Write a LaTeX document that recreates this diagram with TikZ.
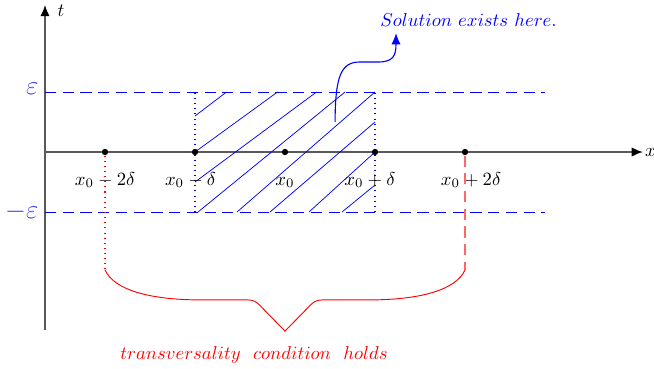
\documentclass[tikz,border=0pt]{standalone}
\usepackage{tikz}
\usetikzlibrary{arrows.meta,positioning}

\begin{document}
\begin{tikzpicture}[
  x=0.565cm,y=0.565cm,
  ax/.style={draw=black!65,line width=0.8pt,
    -{Latex[length=6pt,width=5pt,color=black]}},
  dot/.style={circle,fill=black,inner sep=0pt,minimum size=3.4pt},
  lbl/.style={anchor=base},
  band/.style={blue,line width=0.5pt,dash pattern=on 6pt off 3.5pt},
  side/.style={blue,line width=0.55pt,dash pattern=on 0.55pt off 2.2pt},
  hatch/.style={blue,line width=0.4pt},
  ends/.style={red,line width=0.5pt},
  a/.style={blue,semithick,-{Latex[length=6pt,width=5pt]}}
]
\useasboundingbox (-1.5,-7.233) rectangle (20.3,5.067);

% axes
\coordinate (ybot) at (0,-5.93);
\coordinate (ytop) at (0,4.9);
\coordinate (o) at (0,0);
\coordinate (xend) at (19.93,0);
\draw[ax] (ybot) -- (ytop);
\draw[ax] (o) -- (xend);
\node[right] (tlbl) at (0.2,4.7) {$t$};
\node[anchor=west,inner sep=1pt] (xlbl) at (xend) {$x$};

% the band |t| < eps
\coordinate (eu) at (0,2);
\coordinate (eue) at (16.67,2);
\coordinate (el) at (0,-2);
\coordinate (ele) at (16.67,-2);
\draw[band] (eu) -- (eue);
\draw[band] (el) -- (ele);
\node[left,text=blue!75,font=\Large] (eps) at (0,2.1) {$\varepsilon$};
\node[left,text=blue!75,font=\Large] (meps) at (0,-2) {$-\varepsilon$};

% box over [x0-delta, x0+delta]
\coordinate (bsw) at (5,-2);
\coordinate (bnw) at (5,2);
\coordinate (bse) at (11,-2);
\coordinate (bne) at (11,2);
\draw[side] (bsw) -- (bnw);
\draw[side] (bse) -- (bne);
\draw[hatch] (5,1.2) -- (6.05,2);
\draw[hatch] (5,0) -- (7.75,2);
\draw[hatch] (5,-1) -- (9.05,2);
\draw[hatch] (5.1,-2) -- (10,2);
\draw[hatch] (6.4,-2) -- (11,2);
\draw[hatch] (7.5,-2) -- (11,1);
\draw[hatch] (8.8,-2) -- (11,0);
\draw[hatch] (9.9,-2) -- (11,-1.1);

% points on the x axis
\node[dot] (pm2) at (2,0) {};
\node[dot] (pm1) at (5,0) {};
\node[dot] (p0) at (8,0) {};
\node[dot] (pp1) at (11,0) {};
\node[dot] (pp2) at (14,0) {};
\node[lbl] (lm2) at (2,-1.1) {$x_0-2\delta$};
\node[lbl] (lm1) at (4.85,-1.1) {$x_0-\delta$};
\node[lbl] (l0) at (8,-1.1) {$x_0$};
\node[lbl] (lp1) at (10.83,-1.1) {$x_0+\delta$};
\node[lbl] (lp2) at (14.2,-1.1) {$x_0+2\delta$};

% pointer to the solution region
\coordinate (solstart) at (9.67,1);
\coordinate (soltip) at (11.7,3.96);
\node[text=blue] (sol) at (14.12,4.4) {$Solution\ exists\ here.$};
\draw[a] (solstart) .. controls (9.67,2.6) and (9.9,3) .. (10.5,3)
  -- (11.1,3) .. controls (11.6,3) and (11.7,3.2) .. (soltip);

% brace under [x0-2delta, x0+2delta]
\coordinate (bl) at (2,-3.93);
\coordinate (br) at (14,-3.93);
\coordinate (btip) at (8,-5.97);
\draw[red,line width=0.55pt,dash pattern=on 0.55pt off 2.2pt] (pm2) -- (bl);
\draw[red!60,line width=0.8pt,dash pattern=on 6pt off 3.5pt] (pp2) -- (br);
\draw[ends] (bl) .. controls (2.3,-4.6) and (3.5,-4.93) .. (5.2,-4.93)
  -- (6.75,-4.93) .. controls (6.95,-4.93) and (7.05,-5) .. (7.15,-5.1)
  -- (btip) -- (8.85,-5.1) .. controls (8.95,-5) and (9.05,-4.93) .. (9.25,-4.93)
  -- (10.8,-4.93) .. controls (12.5,-4.93) and (13.7,-4.6) .. (br);
\node[text=red] (cond) at (6.97,-6.77) {$transversality\ \ condition\ \ holds$};
\end{tikzpicture}
\end{document}
